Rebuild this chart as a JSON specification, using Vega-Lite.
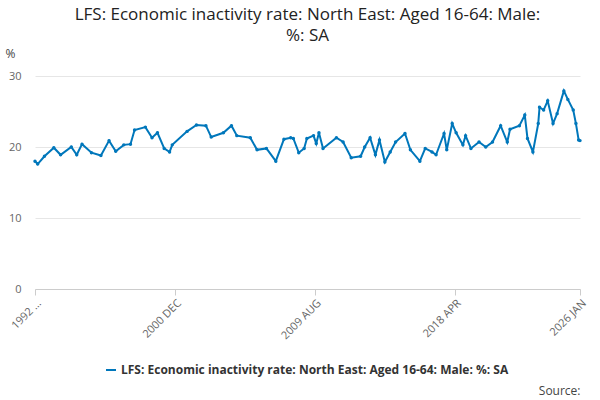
{
"$schema":"https://vega.github.io/schema/vega-lite/v6.json",
"width":600,"height":400,
"autosize":{"type":"fit","contains":"padding"},
"padding":{"left":5,"right":12,"top":6,"bottom":4},
"title":{"text":["LFS: Economic inactivity rate: North East: Aged 16-64: Male:","%: SA"],"fontSize":17,"font":"Open Sans","fontWeight":"normal","color":"#222","anchor":"middle","lineHeight":21,"offset":2},
"config":{"view":{"stroke":null},"font":"Open Sans"},
"data":{"values":[
{"d":"1992-04","v":18.0},{"d":"1992-06","v":17.6},{"d":"1992-11","v":18.7},{"d":"1993-06","v":19.9},{"d":"1993-11","v":18.9},{"d":"1994-07","v":20.0},{"d":"1994-11","v":18.9},{"d":"1995-03","v":20.4},{"d":"1995-10","v":19.2},{"d":"1996-05","v":18.8},{"d":"1996-11","v":20.9},{"d":"1997-04","v":19.4},{"d":"1997-10","v":20.3},{"d":"1998-03","v":20.4},{"d":"1998-06","v":22.4},{"d":"1999-02","v":22.8},{"d":"1999-07","v":21.3},{"d":"1999-11","v":22.0},{"d":"2000-04","v":19.8},{"d":"2000-08","v":19.3},{"d":"2000-10","v":20.3},{"d":"2001-09","v":22.2},{"d":"2002-04","v":23.1},{"d":"2002-11","v":23.0},{"d":"2003-03","v":21.4},{"d":"2003-12","v":22.0},{"d":"2004-06","v":23.0},{"d":"2004-10","v":21.6},{"d":"2005-08","v":21.3},{"d":"2006-01","v":19.6},{"d":"2006-08","v":19.8},{"d":"2007-03","v":18.0},{"d":"2007-09","v":21.1},{"d":"2008-02","v":21.3},{"d":"2008-04","v":21.2},{"d":"2008-08","v":19.2},{"d":"2008-12","v":19.8},{"d":"2009-02","v":21.2},{"d":"2009-07","v":21.6},{"d":"2009-09","v":20.5},{"d":"2009-11","v":22.0},{"d":"2010-02","v":19.8},{"d":"2010-12","v":21.3},{"d":"2011-05","v":20.7},{"d":"2011-11","v":18.5},{"d":"2012-06","v":18.7},{"d":"2012-09","v":20.0},{"d":"2013-01","v":21.3},{"d":"2013-05","v":18.9},{"d":"2013-08","v":21.0},{"d":"2013-12","v":17.9},{"d":"2014-04","v":19.3},{"d":"2014-08","v":20.7},{"d":"2015-03","v":21.9},{"d":"2015-07","v":19.6},{"d":"2016-02","v":18.0},{"d":"2016-06","v":19.8},{"d":"2016-11","v":19.3},{"d":"2017-02","v":18.9},{"d":"2017-08","v":21.9},{"d":"2017-10","v":19.6},{"d":"2018-02","v":23.3},{"d":"2018-05","v":22.0},{"d":"2018-10","v":20.3},{"d":"2018-12","v":21.6},{"d":"2019-04","v":19.8},{"d":"2019-10","v":20.7},{"d":"2020-03","v":20.0},{"d":"2020-08","v":20.7},{"d":"2021-02","v":23.0},{"d":"2021-07","v":20.7},{"d":"2021-09","v":22.5},{"d":"2022-04","v":23.0},{"d":"2022-08","v":24.5},{"d":"2022-10","v":21.2},{"d":"2023-02","v":19.3},{"d":"2023-06","v":23.3},{"d":"2023-07","v":25.6},{"d":"2023-10","v":25.2},{"d":"2024-01","v":26.5},{"d":"2024-05","v":23.3},{"d":"2024-08","v":24.7},{"d":"2025-01","v":27.9},{"d":"2025-04","v":26.7},{"d":"2025-08","v":25.2},{"d":"2025-10","v":23.3},{"d":"2025-12","v":21.0},{"d":"2026-01","v":20.9}
]},
"mark":{"type":"line","point":{"size":12,"filled":true},"strokeWidth":2},
"encoding":{
"x":{"field":"d","type":"temporal","title":"Source:","scale":{"domain":["1992-04-01","2026-01-01"]},
"axis":{"values":["1992-04-01","2000-12-01","2009-08-01","2018-04-01","2026-01-01"],"labelExpr":"year(datum.value)==1992 ? '1992 ...' : upper(timeFormat(datum.value,'%Y %b'))","labelAngle":-45,"labelColor":"#666","labelFontSize":11,"grid":false,"domainColor":"#ccc","tickColor":"#ccc","tickSize":6,"titleAnchor":"end","titleFontWeight":"normal","titleFontSize":12,"titleColor":"#444","titleY":96}},
"y":{"field":"v","type":"quantitative","title":"%","scale":{"domain":[0,30]},
"axis":{"values":[0,10,20,30],"labelColor":"#666","labelFontSize":11,"domain":false,"ticks":false,"gridColor":"#e6e6e6","labelPadding":14,"titleAngle":0,"titleAlign":"left","titleAnchor":"end","titleY":-16,"titleX":-30,"titleFontWeight":"normal","titleFontSize":12,"titleColor":"#444"}},
"color":{"datum":"LFS: Economic inactivity rate: North East: Aged 16-64: Male: %: SA","type":"nominal","scale":{"range":["#0077bb"]},
"legend":{"orient":"none","legendX":70,"legendY":288,"title":null,"labelFontWeight":"bold","labelFontSize":12,"labelColor":"#333","symbolType":"stroke","symbolStrokeWidth":2,"labelLimit":600}}
}
}
